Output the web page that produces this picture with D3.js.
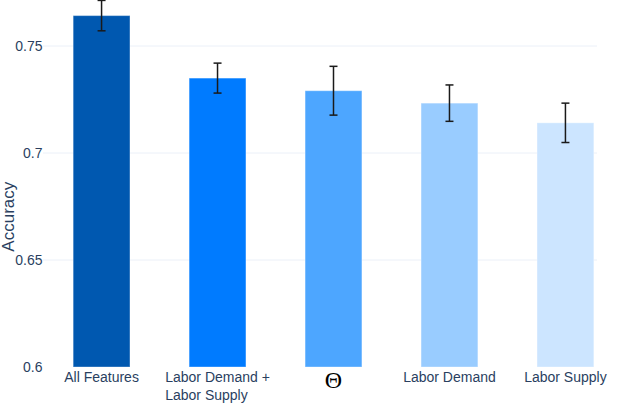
<!DOCTYPE html>
<html><head><meta charset="utf-8">
<script src="https://cdn.jsdelivr.net/npm/d3@7"></script>
<style>html,body{margin:0;padding:0;background:#fff;}svg{display:block;}</style>
</head><body>
<svg id="c" width="623" height="403"></svg>
<script>
const categories = ["All Features", "Labor Demand +\nLabor Supply", "Θ", "Labor Demand", "Labor Supply"];
const accuracy = [0.7642, 0.7350, 0.7291, 0.7233, 0.7141];
const errors = [0.0071, 0.0070, 0.0114, 0.0085, 0.0092];
const colors = ["#0058b0", "#007bff", "#4da6ff", "#99ccff", "#cce5ff"];
const yTicks = [0.6, 0.65, 0.7, 0.75];
const yTickLabels = ["0.6", "0.65", "0.7", "0.75"];

const svg = d3.select("#c");
const font = "'Liberation Sans', Arial, sans-serif";
const textColor = "#2a3f5f";

const x = d3.scaleBand().domain(categories).range([43, 624]).paddingInner(0.51).paddingOuter(0.26);
const y = d3.scaleLinear().domain([0.6, 0.75]).range([367, 46]);

// gridlines
svg.append("g").selectAll("line").data(yTicks.slice(1)).join("line")
  .attr("x1", 43).attr("x2", 597)
  .attr("y1", d => y(d)).attr("y2", d => y(d))
  .attr("stroke", "#ebf0f8").attr("stroke-width", 1);

// y axis labels via d3 axis
const yAxis = d3.axisLeft(y).tickValues(yTicks).tickFormat((d, i) => yTickLabels[i]).tickSize(0).tickPadding(0);
const gy = svg.append("g").attr("transform", "translate(43,0)").call(yAxis);
gy.select(".domain").remove();
gy.selectAll("text").attr("font-family", font).attr("font-size", 14).attr("fill", textColor).attr("x", -0.5);

// bars
svg.append("g").selectAll("rect").data(categories).join("rect")
  .attr("x", d => x(d)).attr("width", x.bandwidth())
  .attr("y", (d, i) => y(accuracy[i])).attr("height", (d, i) => y(0.6) - y(accuracy[i]))
  .attr("fill", (d, i) => colors[i])
  .attr("stroke", "rgba(255,255,255,0.35)").attr("stroke-width", 1);

// error bars
const eg = svg.append("g").attr("stroke", "#1a1a1a").attr("stroke-width", 1.5);
categories.forEach((c, i) => {
  const cx = x(c) + x.bandwidth() / 2;
  const top = y(accuracy[i] + errors[i]);
  const bot = y(accuracy[i] - errors[i]);
  eg.append("line").attr("x1", cx).attr("x2", cx).attr("y1", top).attr("y2", bot);
  eg.append("line").attr("x1", cx - 4).attr("x2", cx + 4).attr("y1", top).attr("y2", top);
  eg.append("line").attr("x1", cx - 4).attr("x2", cx + 4).attr("y1", bot).attr("y2", bot);
});

// x labels
const xg = svg.append("g");
categories.forEach((c, i) => {
  const cx = x(c) + x.bandwidth() / 2;
  if (c === "Θ") {
    xg.append("text").attr("x", cx).attr("y", 388).attr("text-anchor", "middle")
      .attr("font-family", "'Liberation Serif', 'Times New Roman', serif").attr("font-size", 24)
      .attr("fill", "#000").text(c);
  } else {
    const lines = c.split("\n");
    const t = xg.append("text").attr("text-anchor", "middle")
      .attr("font-family", font).attr("font-size", 14).attr("fill", textColor);
    lines.forEach((ln, j) => {
      t.append("tspan").attr("x", cx).attr("y", 382 + j * 17.5).text(ln);
    });
    if (lines.length > 1) {
      const w = t.node().getBBox();
      t.attr("text-anchor", "start");
      t.selectAll("tspan").attr("x", w.x);
    }
  }
});

// y title
svg.append("text").attr("transform", "translate(14,216.7) rotate(-90)")
  .attr("text-anchor", "middle").attr("font-family", font).attr("font-size", 17)
  .attr("fill", textColor).text("Accuracy");
</script>
</body></html>
